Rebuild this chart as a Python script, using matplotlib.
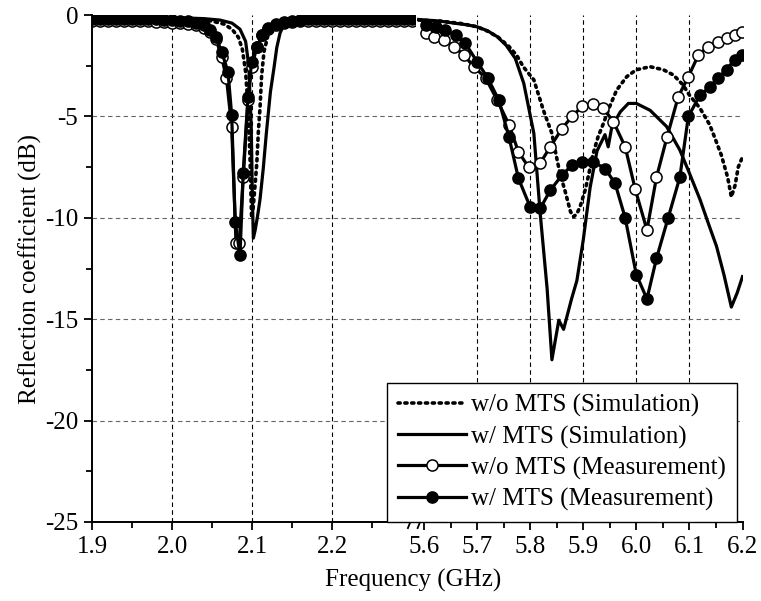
#!/usr/bin/env python3
# Reflection coefficient, 2 GHz band and 5.8 GHz band, with / without MTS
# broken frequency axis done with two axes side by side

import matplotlib.pyplot as plt

plt.rcParams['font.family'] = ['Liberation Serif', 'DejaVu Serif']
plt.rcParams['font.size'] = 18
plt.rcParams['axes.unicode_minus'] = False

# ---------------- low band (1.9 - 2.3 GHz) ----------------
lo_f_sim_wo  = [1.90, 1.95, 2.00, 2.03, 2.05, 2.065, 2.075, 2.083, 2.088, 2.092, 2.095, 2.0975,
                2.0995, 2.1015, 2.104, 2.106, 2.108, 2.110, 2.112, 2.115, 2.12, 2.13, 2.15, 2.2, 2.25, 2.3]
lo_db_sim_wo = [-0.1, -0.12, -0.15, -0.2, -0.3, -0.45, -0.7, -1.1, -1.7, -2.8, -4.5, -7.0,
                -10.0, -9.5, -8.3, -7.3, -5.7, -4.6, -3.0, -1.8, -1.0, -0.5, -0.25, -0.12, -0.1, -0.1]

lo_f_sim_w   = [1.90, 1.95, 2.00, 2.04, 2.06, 2.075, 2.085, 2.092, 2.096, 2.099, 2.1005, 2.1017, 2.104,
                2.107, 2.11, 2.114, 2.118, 2.123, 2.1275, 2.131, 2.135, 2.14, 2.144, 2.16, 2.2, 2.25, 2.3]
lo_db_sim_w  = [-0.1, -0.1, -0.12, -0.18, -0.25, -0.4, -0.7, -1.3, -2.5, -5.5, -9.0, -11.0, -10.6,
                -9.9, -9.1, -7.6, -5.8, -3.8, -2.6, -1.6, -0.9, -0.45, -0.25, -0.15, -0.1, -0.1, -0.1]

lo_f_mea_wo  = [1.90, 1.91, 1.92, 1.93, 1.94, 1.95, 1.96, 1.97, 1.98, 1.99, 2.00, 2.01, 2.02,
                2.03, 2.04, 2.048, 2.055, 2.062, 2.068, 2.0746, 2.080, 2.084, 2.089, 2.095,
                2.0996, 2.106, 2.113, 2.12, 2.13, 2.14, 2.15, 2.16, 2.17, 2.18, 2.19, 2.20,
                2.21, 2.22, 2.23, 2.24, 2.25, 2.26, 2.27, 2.28, 2.29, 2.30]
lo_db_mea_wo = [-0.3, -0.3, -0.3, -0.3, -0.3, -0.3, -0.32, -0.32, -0.34, -0.36, -0.38, -0.4, -0.45,
                -0.5, -0.62, -0.85, -1.2, -2.06, -3.1, -5.5, -11.25, -11.25, -8.0, -4.2,
                -2.55, -1.6, -1.0, -0.7, -0.5, -0.4, -0.35, -0.32, -0.3, -0.3, -0.3, -0.3,
                -0.3, -0.3, -0.3, -0.3, -0.3, -0.3, -0.3, -0.3, -0.3, -0.3]

lo_f_mea_w   = [1.90, 1.91, 1.92, 1.93, 1.94, 1.95, 1.96, 1.97, 1.98, 1.99, 2.00, 2.01, 2.02,
                2.03, 2.04, 2.048, 2.055, 2.062, 2.070, 2.0746, 2.079, 2.085, 2.089, 2.095,
                2.0996, 2.106, 2.113, 2.12, 2.13, 2.14, 2.15, 2.16, 2.17, 2.18, 2.19, 2.20,
                2.21, 2.22, 2.23, 2.24, 2.25, 2.26, 2.27, 2.28, 2.29, 2.30]
lo_db_mea_w  = [-0.2, -0.2, -0.2, -0.2, -0.2, -0.2, -0.2, -0.22, -0.22, -0.24, -0.26, -0.28, -0.32,
                -0.38, -0.5, -0.75, -1.1, -1.81, -2.8, -4.94, -10.2, -11.85, -7.8, -4.03,
                -2.3, -1.56, -1.0, -0.65, -0.45, -0.35, -0.3, -0.25, -0.22, -0.2, -0.2, -0.2,
                -0.2, -0.2, -0.2, -0.2, -0.2, -0.2, -0.2, -0.2, -0.2, -0.2]

# ---------------- high band (5.6 - 6.2 GHz) ----------------
hi_f_sim_wo  = [5.59, 5.63, 5.67, 5.70, 5.72, 5.74, 5.76, 5.775, 5.787, 5.807, 5.825, 5.841, 5.847,
                5.856, 5.866, 5.876, 5.882, 5.888, 5.894, 5.904, 5.91, 5.918, 5.928, 5.938, 5.95,
                5.963, 5.982, 6.0, 6.026, 6.051, 6.07, 6.088, 6.10, 6.12, 6.138, 6.147, 6.16,
                6.172, 6.179, 6.186, 6.192, 6.2]
hi_db_sim_wo = [-0.25, -0.3, -0.42, -0.58, -0.8, -1.1, -1.55, -2.0, -2.55, -3.2, -4.7, -5.84, -6.66,
                -7.8, -8.7, -9.7, -9.95, -9.8, -9.46, -8.6, -7.9, -6.9, -6.0, -5.35, -4.5,
                -3.7, -3.04, -2.7, -2.55, -2.7, -2.96, -3.45, -3.95, -4.6, -5.4, -6.0, -6.9,
                -8.0, -8.97, -8.4, -7.5, -7.0]

hi_f_sim_w   = [5.59, 5.63, 5.656, 5.68, 5.70, 5.72, 5.738, 5.755, 5.772, 5.788, 5.807, 5.819, 5.832,
                5.841, 5.854, 5.863, 5.869, 5.878, 5.888, 5.9, 5.913, 5.926, 5.941, 5.947, 5.954,
                5.97, 5.985, 6.0, 6.026, 6.057, 6.082, 6.10, 6.12, 6.138, 6.151, 6.165, 6.179,
                6.19, 6.2]
hi_db_sim_w  = [-0.22, -0.3, -0.4, -0.48, -0.58, -0.78, -1.07, -1.5, -2.14, -3.37, -5.84, -9.8, -13.5,
                -17.0, -15.05, -15.5, -14.9, -14.0, -13.1, -11.1, -8.5, -6.7, -5.9, -6.5, -5.5,
                -4.77, -4.36, -4.36, -4.7, -5.5, -6.66, -7.8, -9.1, -10.45, -11.4, -12.8, -14.4,
                -13.7, -12.9]

hi_f_mea_wo  = [5.603, 5.619, 5.638, 5.656, 5.675, 5.694, 5.716, 5.738, 5.76, 5.778, 5.797, 5.819,
                5.838, 5.86, 5.879, 5.898, 5.919, 5.938, 5.957, 5.979, 5.998, 6.02, 6.038, 6.058,
                6.079, 6.098, 6.117, 6.135, 6.154, 6.17, 6.185, 6.199]
hi_db_mea_wo = [-0.9, -1.07, -1.23, -1.56, -1.97, -2.55, -3.1, -4.2, -5.4, -6.75, -7.5, -7.3,
                -6.5, -5.6, -5.0, -4.5, -4.4, -4.6, -5.27, -6.5, -8.6, -10.6, -8.0, -6.0,
                -4.03, -3.04, -1.97, -1.56, -1.32, -1.15, -0.99, -0.82]

hi_f_mea_w   = [5.603, 5.622, 5.64, 5.66, 5.678, 5.70, 5.72, 5.741, 5.76, 5.778, 5.80, 5.819,
                5.838, 5.86, 5.879, 5.898, 5.919, 5.941, 5.96, 5.979, 6.0, 6.02, 6.038, 6.06,
                6.082, 6.098, 6.12, 6.139, 6.154, 6.17, 6.185, 6.199]
hi_db_mea_w  = [-0.5, -0.58, -0.74, -0.99, -1.4, -2.3, -3.1, -4.2, -6.0, -8.06, -9.46, -9.54,
                -8.64, -7.9, -7.4, -7.24, -7.24, -7.57, -8.3, -10.0, -12.8, -14.0, -12.0, -10.0,
                -8.0, -5.0, -3.95, -3.54, -3.1, -2.7, -2.2, -1.97]

labels = ['w/o MTS (Simulation)', 'w/ MTS (Simulation)',
          'w/o MTS (Measurement)', 'w/ MTS (Measurement)']

lw = 2.3
sty_sim_wo = dict(color='k', lw=2.6, ls=(0, (0.6, 1.3)), dash_capstyle='round')
sty_sim_w  = dict(color='k', lw=lw)
sty_mea_wo = dict(color='k', lw=lw, marker='o', ms=8, mfc='white', mec='k', mew=1.1)
sty_mea_w  = dict(color='k', lw=lw, marker='o', ms=8, mfc='k', mec='k', mew=1.1)

fig = plt.figure(figsize=(7.61, 6.01), dpi=100)
bot, top = 1 - 522/601, 1 - 15/601
xl, xm, xr = 92/761, 416/761, 742.5/761
ax1 = fig.add_axes([xl, bot, xm - xl, top - bot])
ax2 = fig.add_axes([xm, bot, xr - xm, top - bot], sharey=ax1)

ax1.plot(lo_f_sim_wo, lo_db_sim_wo, **sty_sim_wo)
ax1.plot(lo_f_sim_w, lo_db_sim_w, **sty_sim_w)
ax1.plot(lo_f_mea_wo, lo_db_mea_wo, **sty_mea_wo)
ax1.plot(lo_f_mea_w, lo_db_mea_w, **sty_mea_w)

h1, = ax2.plot(hi_f_sim_wo, hi_db_sim_wo, **sty_sim_wo)
h2, = ax2.plot(hi_f_sim_w, hi_db_sim_w, **sty_sim_w)
h3, = ax2.plot(hi_f_mea_wo, hi_db_mea_wo, **sty_mea_wo)
h4, = ax2.plot(hi_f_mea_w, hi_db_mea_w, **sty_mea_w)

ax1.set_xlim(1.9, 2.305)
ax2.set_xlim(5.585, 6.2)
ax1.set_ylim(-25, 0)
ax1.set_xticks([1.9, 2.0, 2.1, 2.2])
ax1.set_xticks([1.95, 2.05, 2.15, 2.25], minor=True)
ax2.set_xticks([5.6, 5.7, 5.8, 5.9, 6.0, 6.1, 6.2])
ax2.set_xticks([5.65, 5.75, 5.85, 5.95, 6.05, 6.15], minor=True)
ax1.set_yticks([0, -5, -10, -15, -20, -25])
ax1.set_yticks([-2.5, -7.5, -12.5, -17.5, -22.5], minor=True)

for ax in (ax1, ax2):
    ax.spines['top'].set_visible(False)
    ax.spines['right'].set_visible(False)
    ax.spines['bottom'].set_linewidth(1.4)
    ax.spines['left'].set_linewidth(1.4)
    ax.tick_params(which='major', direction='out', length=6, width=1.3, pad=4)
    ax.tick_params(which='minor', direction='out', length=4, width=1.3)
    ax.grid(axis='x', which='major', color='k', ls=(0, (4, 3)), lw=0.8)
    ax.grid(axis='y', which='major', color='#666666', ls=(0, (4, 3)), lw=0.8)
    ax.set_axisbelow(True)

ax2.spines['left'].set_visible(False)
ax2.tick_params(axis='y', which='both', left=False, labelleft=False)
ax1.xaxis.get_gridlines()[0].set_visible(False)
ax2.xaxis.get_gridlines()[0].set_visible(False)
ax2.xaxis.get_gridlines()[-1].set_visible(False)
for ax in (ax1, ax2):
    ax.yaxis.get_gridlines()[0].set_visible(False)
    ax.yaxis.get_gridlines()[-1].set_visible(False)

# break marks on the frequency axis
for dx in (0.0, 0.03):
    ax1.plot([0.975 + dx, 0.99 + dx], [-0.012, 0.012], transform=ax1.transAxes,
             color='k', lw=1.3, clip_on=False)

ax1.set_ylabel('Reflection coefficient (dB)', labelpad=2)
fig.text(413/761, 1 - 580/601, 'Frequency (GHz)', ha='center', va='center')

fig.legend([h1, h2, h3, h4], labels, loc='lower right', bbox_to_anchor=(737/761, bot),
           borderaxespad=0, fancybox=False, edgecolor='k', framealpha=1,
           handlelength=2.7, handletextpad=0.2, labelspacing=0.32, borderpad=0.45)

plt.savefig('out.png', dpi=100)
